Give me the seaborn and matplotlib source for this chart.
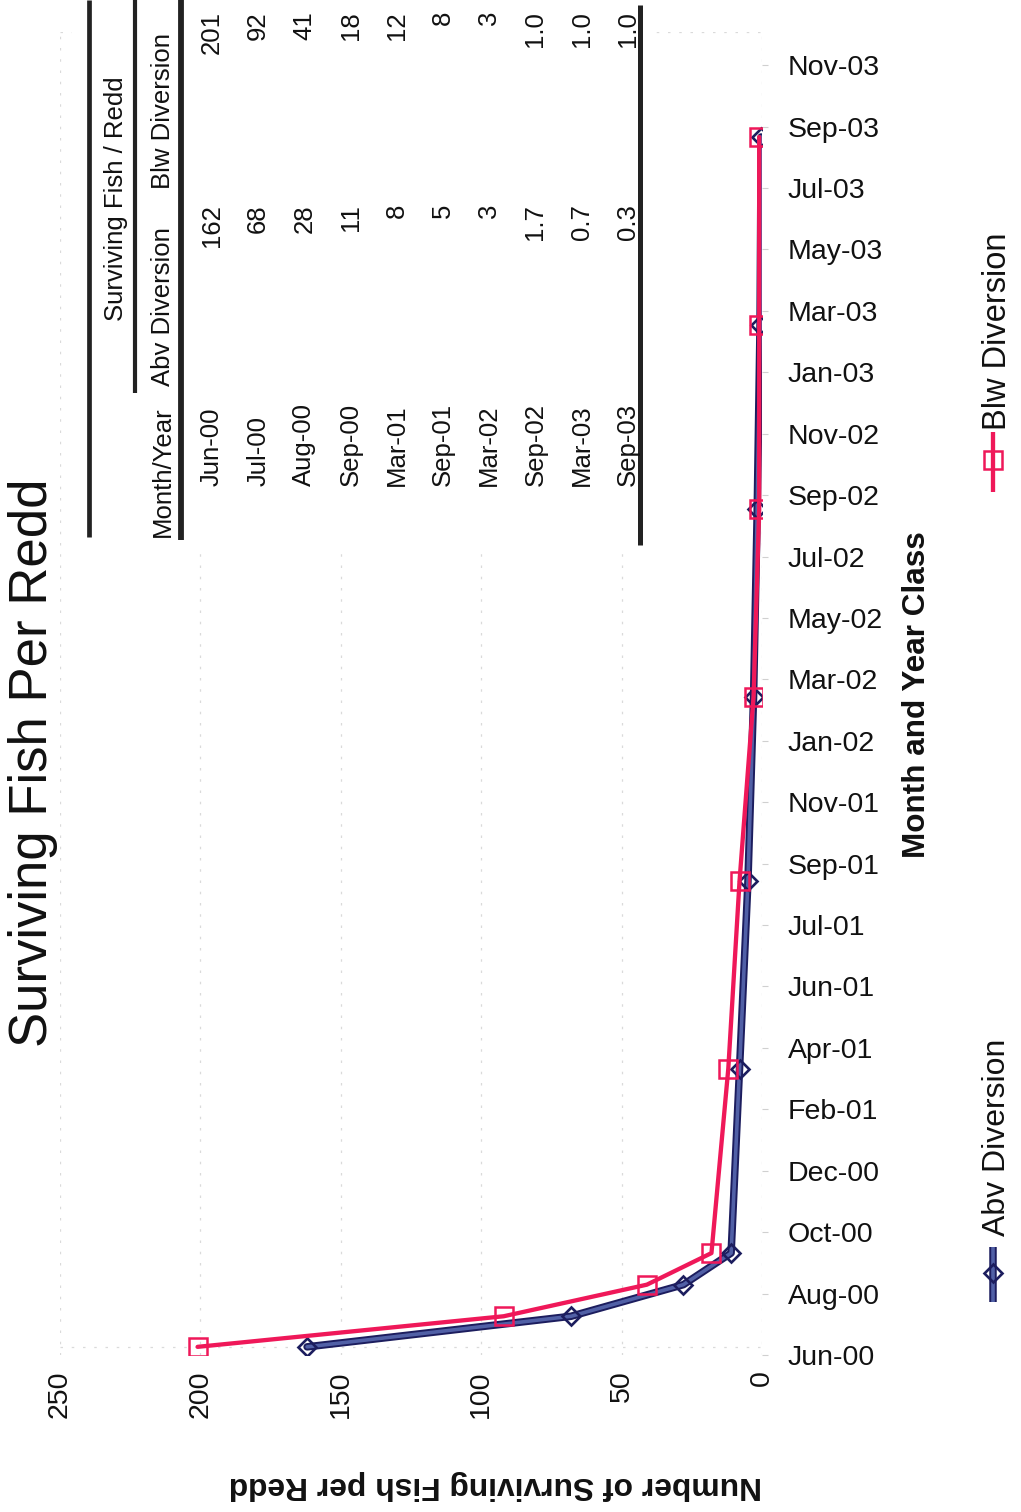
import matplotlib
matplotlib.use("Agg")
import numpy as np
import pandas as pd
import seaborn as sns
import matplotlib.pyplot as plt
import matplotlib.dates as mdates
from matplotlib.lines import Line2D
from matplotlib.patches import Rectangle

# ---- data -------------------------------------------------------------
months = ["Jun-00", "Jul-00", "Aug-00", "Sep-00", "Mar-01",
          "Sep-01", "Mar-02", "Sep-02", "Mar-03", "Sep-03"]
abv_diversion = [162, 68, 28, 11, 8, 5, 3, 1.7, 0.7, 0.3]
blw_diversion = [201, 92, 41, 18, 12, 8, 3, 1.0, 1.0, 1.0]

axis_ticks = ["Jun-00", "Aug-00", "Oct-00", "Dec-00", "Feb-01", "Apr-01",
              "Jun-01", "Jul-01", "Sep-01", "Nov-01", "Jan-02", "Mar-02",
              "May-02", "Jul-02", "Sep-02", "Nov-02", "Jan-03", "Mar-03",
              "May-03", "Jul-03", "Sep-03", "Nov-03"]
count_ticks = [0, 50, 100, 150, 200, 250]

# sampling dates: middle of each month class
dates = pd.to_datetime(months, format="%b-%y") + pd.Timedelta(days=14)
df = pd.DataFrame({
    "month": months,
    "date_num": mdates.date2num(dates),
    "abv": abv_diversion,
    "blw": blw_diversion,
})

# ---- style ------------------------------------------------------------
sns.set_theme(style="white")
plt.rcParams["font.family"] = ["Liberation Sans", "DejaVu Sans"]

NAVY = "#1c1d5e"
SLATE = "#5160a6"
RED = "#ef1859"
GRID = "#dadada"
INK = "#111111"

W, H = 1021, 1512
fig = plt.figure(figsize=(W / 100, H / 100), dpi=100)
fig.patch.set_facecolor("white")


def fx(p):
    return p / W


def fy(p):
    return 1 - p / H


# page is laid out sideways: counts run right-to-left, time runs upward
ax = fig.add_axes([fx(60), fy(1355), fx(762) - fx(60), (1355 - 32) / H])
ax.set_facecolor("white")

t0 = mdates.date2num(pd.Timestamp("2000-06-07"))
tick_step = 60.26
tick_pos = [t0 + k * tick_step for k in range(len(axis_ticks))]

# Abv Diversion: dark outline with a lighter core, hollow diamonds
sns.lineplot(data=df, x="abv", y="date_num", orient="y", estimator=None,
             errorbar=None, color=NAVY, lw=5.4, ax=ax, legend=False,
             solid_joinstyle="round", solid_capstyle="round", zorder=3)
sns.lineplot(data=df, x="abv", y="date_num", orient="y", estimator=None,
             errorbar=None, color=SLATE, lw=2.6, ax=ax, legend=False,
             marker="D", markersize=9, markerfacecolor="none",
             markeredgecolor=NAVY, markeredgewidth=1.9,
             solid_joinstyle="round", zorder=4)
# Blw Diversion: bright red line, hollow squares
sns.lineplot(data=df, x="blw", y="date_num", orient="y", estimator=None,
             errorbar=None, color=RED, lw=3.1, ax=ax, legend=False,
             marker="s", markersize=13, markerfacecolor="none",
             markeredgecolor=RED, markeredgewidth=1.8,
             solid_joinstyle="round", zorder=5)

ax.set_xlim(250, 0)
ax.set_ylim(t0, t0 + 1298)
ax.set_xlabel("")
ax.set_ylabel("")

ax.set_xticks(count_ticks)
ax.set_xticklabels([str(v) for v in count_ticks])
ax.tick_params(axis="x", bottom=True, length=0, pad=10.8, labelsize=20.5,
               labelrotation=90, labelcolor=INK)

ax.yaxis.tick_right()
ax.set_yticks(tick_pos)
ax.set_yticklabels(axis_ticks)
ax.tick_params(axis="y", right=True, left=False, length=4, width=0.8,
               color="#d0d0d0", pad=14.5, labelsize=20.5, labelcolor=INK)

for s in ax.spines.values():
    s.set_visible(False)
ax.grid(axis="x", color=GRID, lw=0.9, ls=(0, (2, 7)))
ax.axhline(df["date_num"].iloc[0], color=GRID, lw=0.9, ls=(0, (2, 7)), zorder=1)
ax.axhline(t0 + 1298, color=GRID, lw=0.9, ls=(0, (2, 7)), zorder=1)

# ---- titles and axis names -----------------------------------------
fig.text(fx(33), fy(763), "Surviving Fish Per Redd", rotation=90,
         ha="center", va="center", fontsize=38, color=INK)
fig.text(fx(917), fy(695), "Month and Year Class", rotation=90,
         ha="center", va="center", fontsize=22.7, fontweight="bold", color=INK)
fig.text(fx(495), fy(1485), "Number of Surviving Fish per Redd", rotation=180,
         ha="center", va="center", fontsize=22.9, fontweight="bold", color=INK)

# ---- legend (vertical entries) -------------------------------------
LX = 993
fig.add_artist(Line2D([fx(LX), fx(LX)], [fy(1247), fy(1302)],
                      transform=fig.transFigure, color=NAVY, lw=5.4,
                      solid_capstyle="butt"))
fig.add_artist(Line2D([fx(LX), fx(LX)], [fy(1247), fy(1302)],
                      transform=fig.transFigure, color=SLATE, lw=2.6,
                      solid_capstyle="butt"))
fig.add_artist(Line2D([fx(LX)], [fy(1273)], transform=fig.transFigure,
                      marker="D", markersize=9, markerfacecolor="none",
                      markeredgecolor=NAVY, markeredgewidth=1.9, lw=0))
fig.text(fx(997), fy(1236), "Abv Diversion", rotation=90, ha="center",
         va="bottom", fontsize=23, color=INK)

fig.add_artist(Line2D([fx(LX), fx(LX)], [fy(432), fy(492)],
                      transform=fig.transFigure, color=RED, lw=3.1,
                      solid_capstyle="butt"))
fig.add_artist(Line2D([fx(LX)], [fy(460)], transform=fig.transFigure,
                      marker="s", markersize=13, markerfacecolor="none",
                      markeredgecolor=RED, markeredgewidth=1.8, lw=0))
fig.text(fx(997), fy(430), "Blw Diversion", rotation=90, ha="center",
         va="bottom", fontsize=23.5, color=INK)

# ---- data table --------------------------------------------------------
fig.add_artist(Rectangle((fx(72), fy(550)), fx(650) - fx(72), 550 / H,
                         transform=fig.transFigure, facecolor="white",
                         edgecolor="none", zorder=2))


def fmt(v):
    return f"{v:.1f}" if v < 2 else f"{v:.0f}"


TFS = 18.5
rule = dict(transform=fig.transFigure, color="#222222", zorder=3,
            solid_capstyle="butt")
fig.add_artist(Line2D([fx(89), fx(89)], [fy(0), fy(537)], lw=3.4, **rule))
fig.add_artist(Line2D([fx(135), fx(135)], [fy(0), fy(393)], lw=3.0, **rule))
fig.add_artist(Line2D([fx(181), fx(181)], [fy(0), fy(540)], lw=4.2, **rule))
fig.add_artist(Line2D([fx(640), fx(640)], [fy(5), fy(545)], lw=3.6, **rule))

fig.text(fx(116), fy(321), "Surviving Fish / Redd", rotation=90, ha="center",
         va="bottom", fontsize=TFS, color=INK, zorder=4)
fig.text(fx(163), fy(537), "Month/Year", rotation=90, ha="center",
         va="bottom", fontsize=TFS, color=INK, zorder=4)
fig.text(fx(163), fy(386), "Abv Diversion", rotation=90, ha="center",
         va="bottom", fontsize=TFS, color=INK, zorder=4)
fig.text(fx(163), fy(189), "Blw Diversion", rotation=90, ha="center",
         va="bottom", fontsize=TFS, color=INK, zorder=4)

for i, (m, a, b) in enumerate(zip(months, abv_diversion, blw_diversion)):
    x = fx(212 + 46.2 * i)
    fig.text(x, fy(486), m, rotation=90, ha="center", va="bottom",
             fontsize=TFS, color=INK, zorder=4)
    fig.text(x, fy(204), fmt(a), rotation=90, ha="center", va="top",
             fontsize=TFS, color=INK, zorder=4)
    fig.text(x, fy(11), fmt(b), rotation=90, ha="center", va="top",
             fontsize=TFS, color=INK, zorder=4)

fig.savefig("out.png", dpi=100, facecolor="white")
